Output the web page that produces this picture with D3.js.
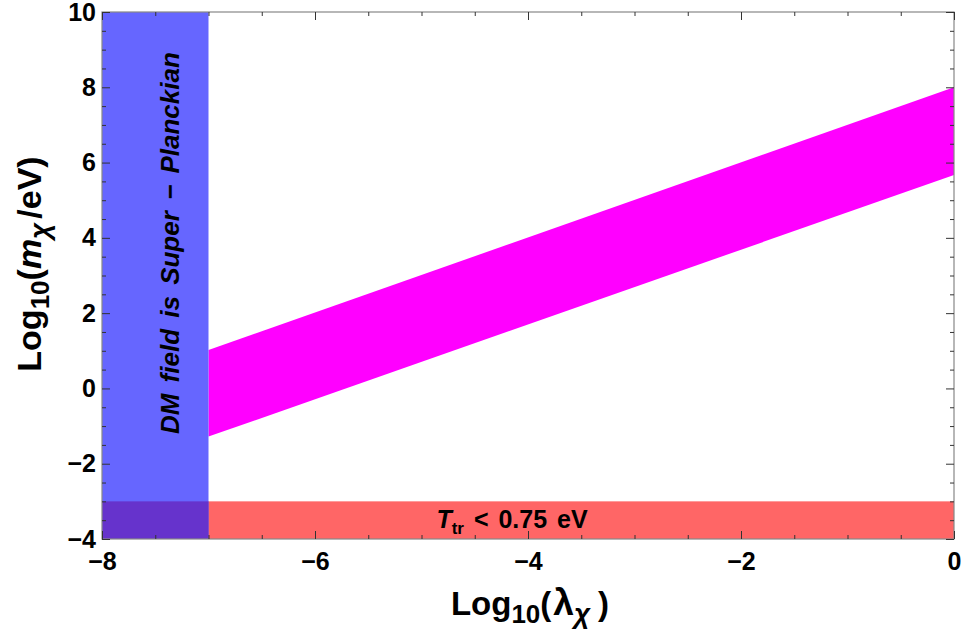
<!DOCTYPE html>
<html>
<head>
<meta charset="utf-8">
<script src="https://cdn.jsdelivr.net/npm/d3@7"></script>
<style>
  body { margin: 0; background: #fff; }
  svg text { font-family: "Liberation Sans", Arial, sans-serif; font-weight: bold; }
</style>
</head>
<body>
<div id="chart"></div>
<script>
// data
const bandX = [-7, 0];
const bandLower = [-1.28, 5.67];
const bandUpper = [1.02, 8.0];
const planckX = [-8, -7];      // super-Planckian region (x range)
const ttrY = [-4, -3];         // T_tr < 0.75 eV region (y range)
const xMajor = [-8, -6, -4, -2, 0];
const yMajor = [-4, -2, 0, 2, 4, 6, 8, 10];

const W = 963, H = 634;
const margin = { top: 12, right: 9, bottom: 95, left: 102 };

const svg = d3.select("#chart")
    .append("svg")
    .attr("width", W)
    .attr("height", H);

const x = d3.scaleLinear().domain([-8, 0]).range([margin.left, W - margin.right]);
const y = d3.scaleLinear().domain([-4, 10]).range([H - margin.bottom, margin.top]);

// magenta band
const band = bandX.map((v, i) => ({ x: v, lo: bandLower[i], hi: bandUpper[i] }));
svg.append("path")
    .datum(band)
    .attr("fill", "#ff00ff")
    .attr("d", d3.area().x(d => x(d.x)).y0(d => y(d.lo)).y1(d => y(d.hi)));

// red strip
svg.append("rect")
    .attr("x", x(-8)).attr("width", x(0) - x(-8))
    .attr("y", y(ttrY[1])).attr("height", y(ttrY[0]) - y(ttrY[1]))
    .attr("fill", "#ff6666");

// blue strip
svg.append("rect")
    .attr("x", x(planckX[0])).attr("width", x(planckX[1]) - x(planckX[0]))
    .attr("y", y(10)).attr("height", y(-4) - y(10))
    .attr("fill", "#6666ff");

// overlap
svg.append("rect")
    .attr("x", x(planckX[0])).attr("width", x(planckX[1]) - x(planckX[0]))
    .attr("y", y(ttrY[1])).attr("height", y(ttrY[0]) - y(ttrY[1]))
    .attr("fill", "#6633cc");

// frame
svg.append("rect")
    .attr("x", x(-8)).attr("y", y(10))
    .attr("width", x(0) - x(-8)).attr("height", y(-4) - y(10))
    .attr("fill", "none").attr("stroke", "#888").attr("stroke-width", 1.2);

const xMinor = d3.range(-8, 0.01, 0.5).filter(v => !xMajor.includes(v));
const yMinor = d3.range(-4, 10.01, 0.5).filter(v => !yMajor.includes(v));

function styleAxis(g) {
    g.select(".domain").remove();
    g.selectAll(".tick line").attr("stroke", "#333");
    g.selectAll(".tick text").attr("fill", "#000").style("font-size", "25px");
}

// bottom / left with labels
svg.append("g").attr("transform", `translate(0,${y(-4)})`)
    .call(d3.axisBottom(x).tickValues(xMajor).tickSizeInner(-8).tickSizeOuter(0).tickPadding(13).tickFormat(d3.format("d")))
    .call(styleAxis);
svg.append("g").attr("transform", `translate(${x(-8)},0)`)
    .call(d3.axisLeft(y).tickValues(yMajor).tickSizeInner(-8).tickSizeOuter(0).tickPadding(6).tickFormat(d3.format("d")))
    .call(styleAxis);

// minor ticks and top/right ticks
svg.append("g").attr("transform", `translate(0,${y(-4)})`)
    .call(d3.axisBottom(x).tickValues(xMinor).tickSizeInner(-4).tickSizeOuter(0).tickFormat(""))
    .call(styleAxis);
svg.append("g").attr("transform", `translate(${x(-8)},0)`)
    .call(d3.axisLeft(y).tickValues(yMinor).tickSizeInner(-4).tickSizeOuter(0).tickFormat(""))
    .call(styleAxis);
svg.append("g").attr("transform", `translate(0,${y(10)})`)
    .call(d3.axisTop(x).tickValues(xMajor).tickSizeInner(-8).tickSizeOuter(0).tickFormat(""))
    .call(styleAxis);
svg.append("g").attr("transform", `translate(0,${y(10)})`)
    .call(d3.axisTop(x).tickValues(xMinor).tickSizeInner(-4).tickSizeOuter(0).tickFormat(""))
    .call(styleAxis);
svg.append("g").attr("transform", `translate(${x(0)},0)`)
    .call(d3.axisRight(y).tickValues(yMajor).tickSizeInner(-8).tickSizeOuter(0).tickFormat(""))
    .call(styleAxis);
svg.append("g").attr("transform", `translate(${x(0)},0)`)
    .call(d3.axisRight(y).tickValues(yMinor).tickSizeInner(-4).tickSizeOuter(0).tickFormat(""))
    .call(styleAxis);

// region labels
svg.append("text")
    .attr("transform", `translate(${x(-7.28)},${y(3.86)}) rotate(-90)`)
    .attr("text-anchor", "middle")
    .style("font-size", "26px").style("font-style", "italic")
    .style("word-spacing", "4px")
    .text("DM field is Super \u2212 Planckian");

const ttr = svg.append("text")
    .attr("x", x(-4.15)).attr("y", y(-3.5) + 8)
    .attr("text-anchor", "middle")
    .style("font-size", "25px");
ttr.append("tspan").style("font-style", "italic").text("T");
ttr.append("tspan").attr("dy", 6).style("font-size", "17px").text("tr");
ttr.append("tspan").attr("dy", -6).style("word-spacing", "3px").text(" < 0.75 eV");

// X axis label
const xl = svg.append("text")
    .attr("x", 530).attr("y", 615)
    .attr("text-anchor", "middle")
    .style("font-size", "33px");
xl.append("tspan").text("Log");
xl.append("tspan").attr("dy", 8).style("font-size", "26px").text("10");
xl.append("tspan").attr("dy", -8).text("(");
xl.append("tspan").attr("dx", 2).style("font-size", "37px").text("\u03bb");
xl.append("tspan").attr("dy", 8).style("font-size", "28px").style("font-style", "italic").text("\u03c7");
xl.append("tspan").attr("dy", -8).attr("dx", 8).text(")");

// Y axis label
const yl = svg.append("text")
    .attr("transform", `translate(41,264) rotate(-90)`)
    .attr("text-anchor", "middle")
    .style("font-size", "34px");
yl.append("tspan").text("Log");
yl.append("tspan").attr("dy", 8).style("font-size", "26px").text("10");
yl.append("tspan").attr("dy", -8).text("(");
yl.append("tspan").style("font-style", "italic").text("m");
yl.append("tspan").attr("dy", 8).style("font-size", "28px").style("font-style", "italic").text("\u03c7");
yl.append("tspan").attr("dy", -8).attr("dx", 4).text("/eV)");
</script>
</body>
</html>
